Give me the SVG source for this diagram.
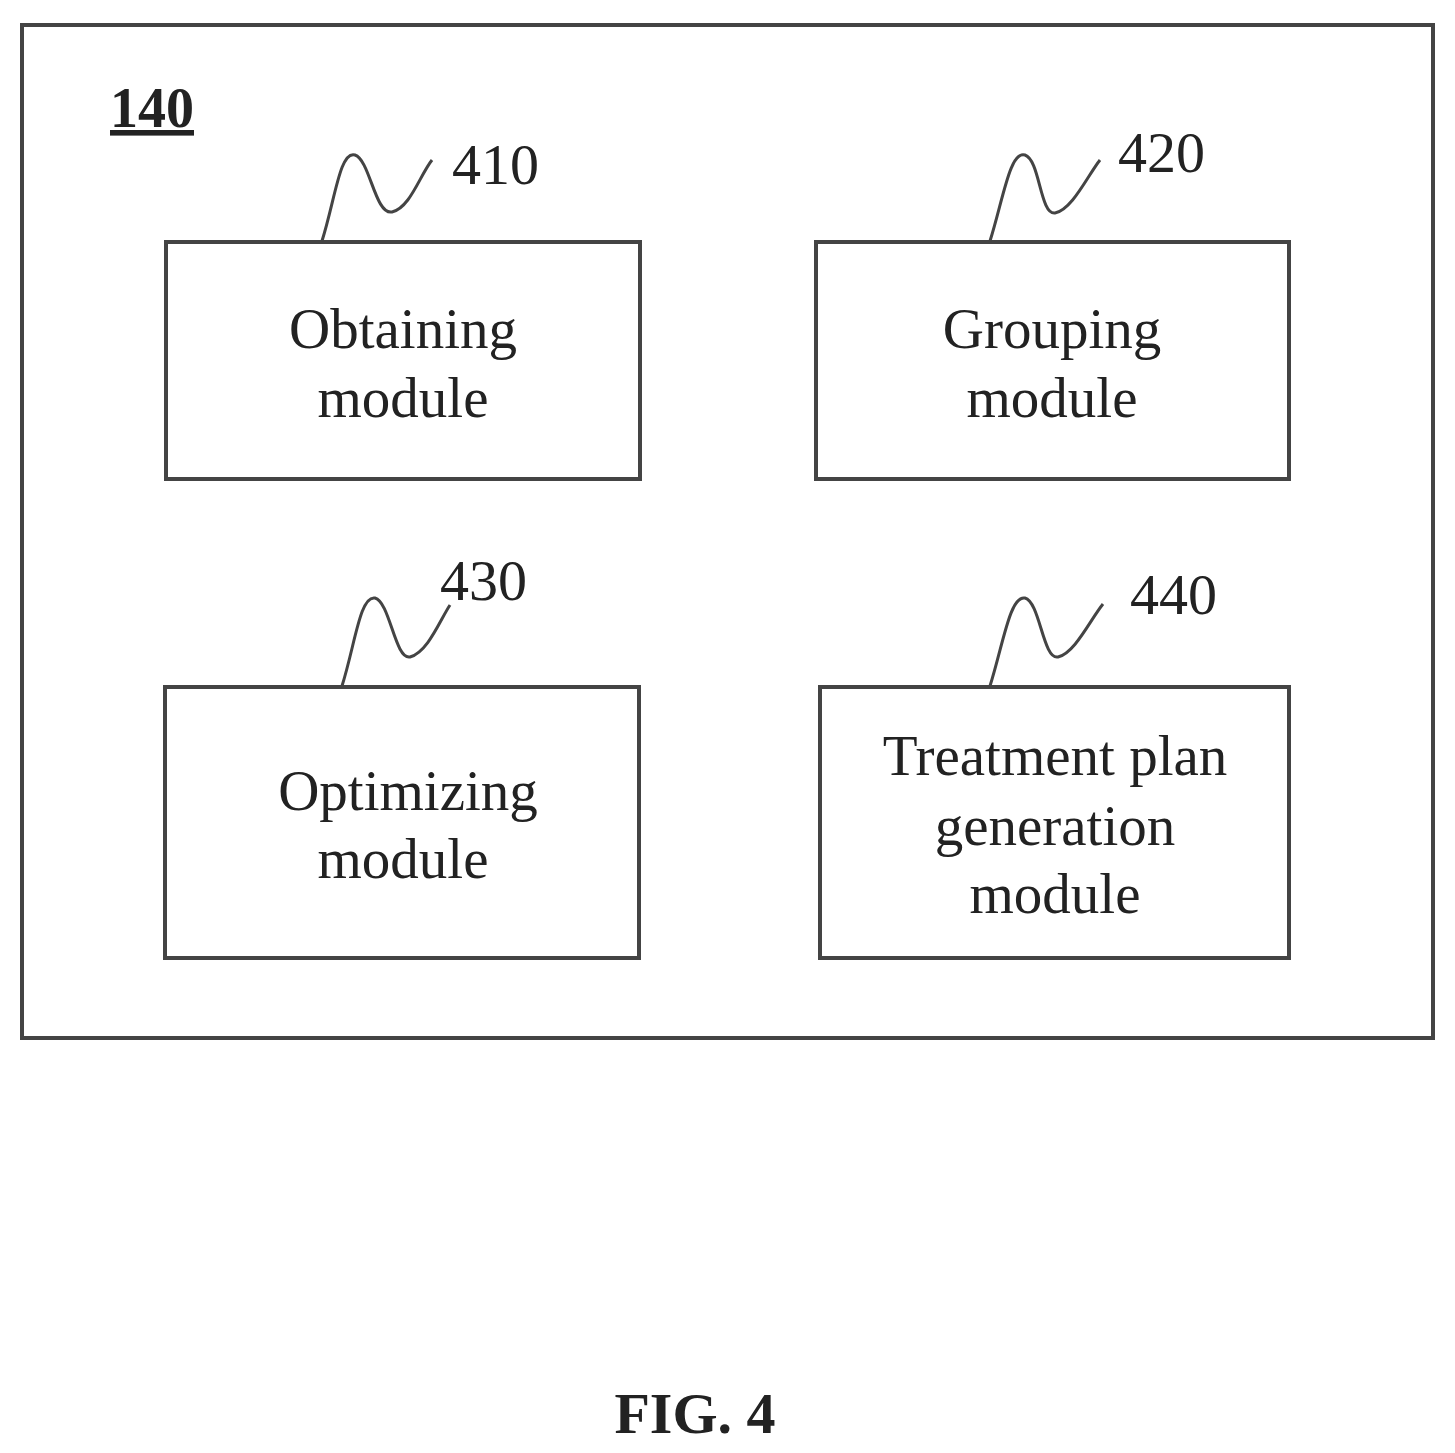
<svg xmlns="http://www.w3.org/2000/svg" width="1455" height="1453" viewBox="0 0 1455 1453">
<style>
.b{fill:none;stroke:#444;stroke-width:4}
.t{font-family:"Liberation Serif",serif;font-size:57px;fill:#222;text-anchor:middle}
.n{font-family:"Liberation Serif",serif;font-size:58px;fill:#222}
.w{fill:none;stroke:#444;stroke-width:3}
</style>
<rect width="1455" height="1453" fill="#fff"/>
<rect class="b" x="22" y="25" width="1411" height="1013"/>
<text x="110" y="127" font-family="Liberation Serif,serif" font-size="56" font-weight="bold" text-decoration="underline" fill="#222">140</text>
<g id="n410"><rect class="b" x="166" y="242" width="474" height="237"/><text class="t" x="403" y="348">Obtaining</text><text class="t" x="403" y="417">module</text><text class="n" x="452" y="184">410</text></g>
<g id="n420"><rect class="b" x="816" y="242" width="473" height="237"/><text class="t" x="1052" y="348">Grouping</text><text class="t" x="1052" y="417">module</text><text class="n" x="1118" y="172">420</text></g>
<g id="n430"><rect class="b" x="165" y="687" width="474" height="271"/><text class="t" x="408" y="810">Optimizing</text><text class="t" x="403" y="878">module</text><text class="n" x="440" y="600">430</text></g>
<g id="n440"><rect class="b" x="820" y="687" width="469" height="271"/><text class="t" x="1055" y="775">Treatment plan</text><text class="t" x="1055" y="845">generation</text><text class="t" x="1055" y="913">module</text><text class="n" x="1130" y="614">440</text></g>
<g id="connectors">
<path class="w" d="M322,241 C335,200 340,150 355,155 C370,160 375,215 392,212 C410,208 420,175 432,160"/>
<path class="w" d="M990,241 C1003,200 1010,150 1025,155 C1040,160 1040,215 1055,213 C1072,210 1088,175 1100,160"/>
<path class="w" d="M342,686 C355,645 360,595 375,598 C390,602 395,660 410,657 C428,652 440,620 450,605"/>
<path class="w" d="M990,686 C1003,645 1010,595 1025,598 C1040,602 1043,660 1058,657 C1075,653 1090,620 1103,604"/>
</g>
<text x="695" y="1433" font-family="Liberation Serif,serif" font-size="58" font-weight="bold" text-anchor="middle" fill="#222">FIG. 4</text>
</svg>
